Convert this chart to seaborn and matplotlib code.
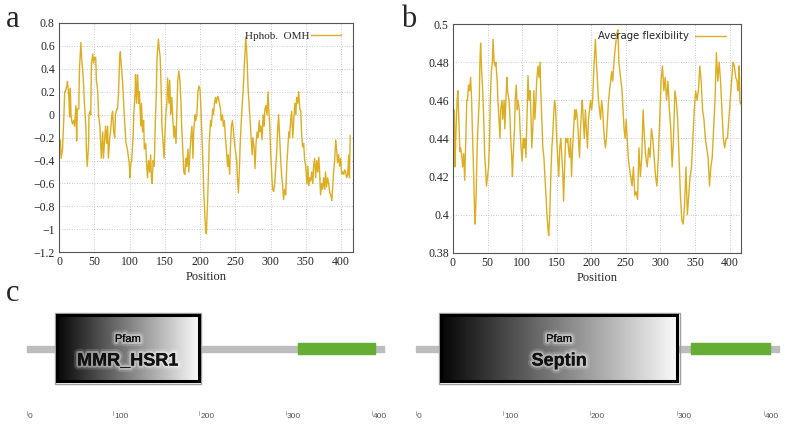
import numpy as np
import pandas as pd
import seaborn as sns
import matplotlib.pyplot as plt
from matplotlib.patches import Rectangle
import matplotlib.patheffects as pe

# Panel a: hydrophobicity (OMH) profile
hphob_pos = [2, 3, 5, 6, 7, 8, 9, 11, 12, 14, 15, 16, 17, 18, 19, 21, 22, 24, 25, 26, 28, 29, 31, 32, 34, 35,
             36, 38, 39, 40, 42, 42.5, 44, 45, 46, 48, 49, 50.5, 52, 53, 55, 56, 58, 59, 60, 62, 63, 65, 66,
             67.5, 69, 70, 72, 73, 75, 76, 77.5, 79, 80, 82, 83, 84.5, 86, 87, 88, 90, 91, 92.5, 94, 95, 97,
             98, 100, 100.5, 102, 103, 105, 106, 108, 108.5, 110, 111.5, 113, 114, 116, 117, 118.5, 120, 121,
             123, 124, 125.5, 127, 128.5, 130, 131, 132, 133.5, 135, 136.5, 138, 139, 141, 142, 143.5, 145,
             146, 148, 149, 150, 151.5, 153, 154, 156, 157, 158.5, 160, 161.5, 163, 164, 166, 167, 168.5, 170,
             171.5, 173, 174, 175.5, 177, 178.5, 180, 181, 183, 184, 185.5, 187, 188.5, 190, 191, 193, 194,
             195.5, 197, 198.5, 200, 201, 202.5, 204, 205.5, 207, 208, 209, 210.5, 212, 213, 215, 216, 218,
             219, 220.5, 222, 223, 225, 226, 227.5, 229, 230, 232, 233, 234.5, 236, 237.5, 239, 240, 242, 243,
             244.5, 246, 247.5, 249, 250, 252, 253, 254.5, 256, 257, 259, 260, 261.5, 263, 264.5, 265, 267,
             268, 269.5, 271, 272.5, 274, 275, 277, 278, 279.5, 281, 282.5, 284, 285, 286.5, 288, 289.5, 291,
             292, 293.5, 295, 296.5, 297.5, 299, 300, 302, 303, 304.5, 306, 307.5, 309, 310, 311.5, 313, 314.5,
             316, 317, 318.5, 320, 321.5, 323, 324.5, 326, 327, 328.5, 330, 331.5, 333, 334.5, 336, 337, 338.5,
             340, 341.5, 343, 344, 345.5, 347, 348.5, 350, 351.5, 353, 354, 355.5, 357, 358.5, 360, 361, 362.5,
             364, 365.5, 367, 368.5, 370, 371, 372.5, 374, 375.5, 377, 378, 379.5, 381, 382.5, 384, 385.5, 387,
             388, 389.5, 391, 392.5, 394, 395, 396.5, 398, 399.5, 401, 402.5, 404, 405, 406.5, 408, 409.5, 411,
             412, 413]
hphob_val = [-0.22, -0.38, -0.3, -0.15, 0.0, 0.2, 0.2, 0.25, 0.29, 0.15, -0.02, 0.23, 0.0, -0.05, -0.08, -0.05,
             -0.1, 0.08, -0.23, 0.05, 0.05, 0.4, 0.63, 0.5, 0.35, 0.25, 0.1, -0.1, -0.35, -0.45, -0.25, 0.0,
             0.03, 0.0, 0.45, 0.53, 0.45, 0.5, 0.5, 0.3, 0.2, 0.0, -0.1, -0.25, -0.38, -0.15, -0.38, -0.2, -0.1,
             -0.25, -0.1, -0.38, -0.2, -0.15, 0.0, 0.03, -0.15, -0.2, 0.0, 0.05, 0.05, 0.2, 0.5, 0.55, 0.45, 0.3,
             0.2, 0.0, -0.15, -0.25, -0.3, -0.35, -0.45, -0.55, -0.42, -0.4, -0.2, 0.0, 0.2, 0.35, 0.1, 0.35,
             0.1, 0.2, -0.1, 0.1, -0.15, -0.05, -0.3, -0.25, -0.4, -0.55, -0.4, -0.5, -0.35, -0.55, -0.6, -0.4,
             -0.45, -0.1, 0.2, 0.5, 0.66, 0.58, 0.5, 0.2, -0.1, -0.28, -0.38, -0.2, 0.0, 0.1, 0.32, 0.1, 0.3,
             0.0, 0.15, -0.05, -0.2, -0.1, -0.25, 0.0, 0.3, 0.38, 0.3, 0.1, -0.1, -0.3, -0.5, -0.52, -0.38,
             -0.45, -0.3, -0.5, -0.35, -0.2, -0.1, -0.38, -0.15, 0.0, -0.05, 0.0, 0.2, 0.25, 0.22, 0.1, -0.15,
             -0.4, -0.7, -0.9, -1.02, -1.04, -0.8, -0.5, -0.25, -0.05, -0.1, 0.05, 0.0, 0.1, 0.15, 0.1, 0.16,
             0.15, 0.1, 0.05, -0.05, 0.0, -0.1, -0.05, -0.2, -0.3, -0.45, -0.35, -0.52, -0.3, -0.1, -0.05,
             -0.15, -0.25, -0.3, -0.4, -0.55, -0.68, -0.45, -0.25, 0.0, 0.1, 0.25, 0.45, 0.62, 0.68, 0.45, 0.25,
             0.1, -0.05, -0.2, -0.35, -0.2, -0.3, -0.47, -0.25, -0.15, -0.2, -0.05, -0.15, -0.1, -0.22, 0.0,
             -0.1, 0.05, 0.08, 0.0, 0.2, 0.05, -0.1, -0.3, -0.55, -0.65, -0.67, -0.6, -0.45, -0.3, -0.15, 0.0,
             -0.2, -0.4, -0.55, -0.6, -0.74, -0.65, -0.7, -0.45, -0.3, -0.15, -0.2, -0.05, 0.03, -0.2, -0.05,
             0.1, 0.0, 0.15, 0.1, 0.2, 0.05, 0.03, -0.15, -0.28, -0.25, -0.4, -0.45, -0.6, -0.45, -0.62, -0.55,
             -0.58, -0.5, -0.6, -0.45, -0.38, -0.55, -0.4, -0.5, -0.37, -0.55, -0.7, -0.6, -0.65, -0.55, -0.65,
             -0.5, -0.63, -0.55, -0.6, -0.68, -0.7, -0.75, -0.65, -0.5, -0.4, -0.22, -0.32, -0.42, -0.35, -0.45,
             -0.38, -0.52, -0.5, -0.52, -0.48, -0.5, -0.55, -0.52, -0.35, -0.55, -0.18]

# Panel b: average flexibility profile
flex_pos = [2, 3, 4, 6, 7, 8.5, 10, 11, 13, 14,
            15.5, 17, 18.5, 20, 21, 22.5, 24, 25.5, 27, 28,
            30, 31, 32, 33.5, 35, 36, 38, 39, 40, 41.5,
            43, 44.5, 46, 47, 48.5, 50, 51.5, 53, 54, 55.5,
            57, 58, 59.5, 61, 62, 64, 65, 66.5, 68, 69,
            71, 72, 74, 75, 76.5, 78, 79, 81, 82, 83.5,
            85, 86, 87, 89, 90, 91.5, 93, 94, 96, 97,
            98.5, 100, 101.5, 103, 104, 105.5, 107, 108.5, 110, 111.5,
            113, 114, 115.5, 117, 118.5, 120, 121, 123, 124.5, 126,
            127, 128.5, 130, 131.5, 133, 134.5, 136, 137.5, 138.5, 140,
            141.5, 143, 144, 146, 147, 148.5, 150, 151.5, 153, 154.5,
            156, 157.5, 159, 160, 161.5, 163, 164.5, 166, 167, 168.5,
            170, 171.5, 173, 174.5, 176, 177, 178.5, 180, 181.5, 183,
            184.5, 186, 187, 188.5, 190, 191.5, 193, 194.5, 196, 197.5,
            199, 200.5, 202, 203.5, 205, 206, 207.5, 209, 210.5, 212,
            213.5, 215, 216.5, 218, 219, 220.5, 222, 223.5, 225, 226.5,
            228, 229.5, 231, 232.5, 234, 235.5, 237, 238.5, 240, 241.5,
            243, 244.5, 246, 247.5, 249, 250.5, 252, 253.5, 255, 257,
            259, 261, 263, 265, 267, 269, 271, 273, 275, 277,
            279, 281, 283, 285, 287, 289, 291, 293, 295, 297,
            299, 301, 303, 305, 307, 309, 311, 313, 315, 317,
            319, 321, 323, 325, 327, 329, 331, 333, 335, 337,
            339, 341, 343, 345, 347, 349, 351, 353, 355, 357,
            359, 361, 363, 365, 367, 369, 371, 373, 375, 377,
            379, 381, 383, 385, 387, 389, 391, 393, 395, 397,
            399, 401, 403, 405, 407, 409, 411, 412, 413, 414,
            415, 416]
flex_val = [0.455, 0.425, 0.44, 0.46, 0.465, 0.45, 0.433, 0.435, 0.43, 0.425,
            0.432, 0.418, 0.44, 0.46, 0.46, 0.468, 0.465, 0.472, 0.46, 0.445,
            0.42, 0.405, 0.395, 0.41, 0.435, 0.445, 0.46, 0.48, 0.49, 0.475,
            0.465, 0.45, 0.43, 0.425, 0.415, 0.42, 0.425, 0.44, 0.46, 0.475,
            0.48, 0.492, 0.48, 0.478, 0.48, 0.47, 0.46, 0.45, 0.44, 0.455,
            0.46, 0.45, 0.46, 0.445, 0.46, 0.472, 0.465, 0.46, 0.455, 0.44,
            0.43, 0.42, 0.43, 0.445, 0.46, 0.468, 0.455, 0.46, 0.455, 0.445,
            0.435, 0.428, 0.44, 0.435, 0.44, 0.43, 0.45, 0.473, 0.46, 0.465,
            0.45, 0.435, 0.445, 0.465, 0.45, 0.46, 0.47, 0.478, 0.472, 0.48,
            0.465, 0.45, 0.435, 0.43, 0.42, 0.41, 0.40, 0.392, 0.389, 0.4,
            0.42, 0.435, 0.44, 0.455, 0.46, 0.455, 0.44, 0.43, 0.42, 0.435,
            0.44, 0.43, 0.42, 0.407, 0.425, 0.44, 0.438, 0.44, 0.435, 0.43,
            0.44, 0.42, 0.435, 0.445, 0.455, 0.45, 0.455, 0.45, 0.44, 0.43,
            0.445, 0.455, 0.46, 0.45, 0.44, 0.455, 0.445, 0.435, 0.45, 0.455,
            0.46, 0.455, 0.46, 0.475, 0.485, 0.492, 0.48, 0.47, 0.46, 0.455,
            0.45, 0.46, 0.455, 0.445, 0.44, 0.435, 0.44, 0.45, 0.46, 0.465,
            0.47, 0.475, 0.47, 0.478, 0.485, 0.49, 0.495, 0.497, 0.48, 0.475,
            0.47, 0.465, 0.455, 0.445, 0.44, 0.45, 0.44, 0.43, 0.425, 0.42,
            0.415, 0.425, 0.41, 0.412, 0.408, 0.435, 0.42, 0.43, 0.455, 0.44,
            0.43, 0.425, 0.435, 0.43, 0.445, 0.44, 0.43, 0.42, 0.415, 0.43,
            0.45, 0.47, 0.478, 0.465, 0.472, 0.46, 0.47, 0.455, 0.445, 0.425,
            0.44, 0.465, 0.46, 0.45, 0.43, 0.41, 0.397, 0.395, 0.405, 0.425,
            0.40, 0.41, 0.42, 0.425, 0.44, 0.455, 0.465, 0.46, 0.465, 0.478,
            0.47, 0.455, 0.45, 0.44, 0.435, 0.43, 0.415, 0.425, 0.43, 0.445,
            0.46, 0.485, 0.47, 0.48, 0.47, 0.455, 0.44, 0.435, 0.44, 0.44,
            0.45, 0.46, 0.47, 0.48, 0.478, 0.472, 0.47, 0.465, 0.47, 0.478,
            0.46, 0.458]

# Panel c: domain architecture
protein_len = [414, 417]
domain_names = ['MMR_HSR1', 'Septin']
domain_start = [32, 26]
domain_end = [202, 303]
coil_start = [314, 316]
coil_end = [403, 407]
scale_ticks = [0, 100, 200, 300, 400]

line_color = '#DDAE22'

sns.set_style('white')
plt.rcParams['font.family'] = ['Liberation Serif', 'DejaVu Serif']

fig = plt.figure(figsize=(7.86, 4.25), dpi=100)

ax_a = fig.add_axes([0.0751, 0.4064, 0.374, 0.5395])
ax_b = fig.add_axes([0.5763, 0.4054, 0.3668, 0.538])

df_a = pd.DataFrame({'Position': hphob_pos, 'value': hphob_val})
df_b = pd.DataFrame({'Position': flex_pos, 'value': flex_val})

sns.lineplot(data=df_a, x='Position', y='value', ax=ax_a, color=line_color, lw=1.0,
             estimator=None, label='Hphob.  OMH')
sns.lineplot(data=df_b, x='Position', y='value', ax=ax_b, color=line_color, lw=1.0,
             estimator=None, label='Average flexibility')

ax_a.set_xlim(0, 417)
ax_a.set_ylim(-1.2, 0.8)
ax_a.set_yticks(np.arange(-1.2, 0.81, 0.2))
ax_a.set_yticklabels(['\u22121.2', '\u22121', '\u22120.8', '\u22120.6', '\u22120.4', '\u22120.2',
                      '0', '0.2', '0.4', '0.6', '0.8'])
ax_b.set_xlim(0, 417)
ax_b.set_ylim(0.38, 0.5)
ax_b.set_yticks([0.38, 0.4, 0.42, 0.44, 0.46, 0.48, 0.5])
ax_b.set_yticklabels(['0.38', '0.4', '0.42', '0.44', '0.46', '0.48', '0.5'])

for ax in (ax_a, ax_b):
    ax.set_xticks(range(0, 401, 50))
    ax.grid(True, linestyle=(0, (1, 2)), color='#b8b8b8', lw=0.6)
    ax.tick_params(labelsize=8.5, direction='in', length=3, color='#444', pad=3)
    ax.set_xlabel('Position', fontsize=9, labelpad=2)
    ax.set_ylabel('')
    for s in ax.spines.values():
        s.set_color('#555555')
        s.set_linewidth(0.8)

ax_a.legend(loc='upper right', frameon=False, markerfirst=False, handlelength=2.7,
            fontsize=8, borderaxespad=0.3, handletextpad=0.15, bbox_to_anchor=(0.985, 1.0))
ax_b.legend(loc='upper right', frameon=False, markerfirst=False, handlelength=3.0,
            borderaxespad=0.3, handletextpad=0.6, bbox_to_anchor=(0.97, 1.0),
            prop={'family': 'DejaVu Sans', 'size': 7.3})

# panel letters
fig.text(0.008, 0.955, 'a', fontsize=22, va='center')
fig.text(0.510, 0.955, 'b', fontsize=22, va='center')
fig.text(0.008, 0.31, 'c', fontsize=22, va='center')

# Panel c: two domain diagrams, y in pixel-like units
axes_c = [fig.add_axes([0.0, 0.0, 0.5, 135 / 425]), fig.add_axes([0.5, 0.0, 0.5, 135 / 425])]
xlims = [(-31.3, 424.4), (-26.4, 425.3)]
gradient = np.linspace(0.02, 0.98, 256).reshape(1, -1)
glow = [pe.withStroke(linewidth=6, foreground='white', alpha=0.15),
        pe.withStroke(linewidth=3, foreground='white', alpha=0.35),
        pe.Normal()]

for i, ax in enumerate(axes_c):
    ax.set_xlim(*xlims[i])
    ax.set_ylim(425, 290)
    ax.axis('off')
    # backbone
    ax.broken_barh([(0, protein_len[i])], (346, 6), color='#bdbdbd', zorder=1)
    # coiled region
    ax.broken_barh([(coil_start[i], coil_end[i] - coil_start[i])], (343.5, 11), color='#66ad33', zorder=2)
    # domain box with gradient
    s, e = domain_start[i], domain_end[i]
    ax.imshow(gradient, cmap='gray', vmin=0, vmax=1, aspect='auto',
              extent=[s + 2, e - 2, 382, 315], zorder=3, interpolation='bilinear')
    ax.add_patch(Rectangle((s, 313), e - s, 71, fill=False, ec='#a0a0a0', lw=1.0, zorder=4))
    ax.add_patch(Rectangle((s + 2.5, 315.5), e - s - 5, 66, fill=False, ec='black', lw=2.2, zorder=4))
    mid = (s + e) / 2
    ax.text(mid, 339, 'Pfam', fontsize=8, family='Liberation Sans', ha='center', va='center',
            color='#111111', zorder=5, path_effects=glow)
    ax.text(mid, 361, domain_names[i], fontsize=13, fontweight='bold', family='Liberation Sans',
            ha='center', va='center', color='#111111', zorder=5, path_effects=glow)
    # scale
    for t in scale_ticks:
        ax.plot([t, t], [411, 415], color='#888888', lw=0.5)
        ax.text(t + 1, 417, str(t), fontsize=6, family='Liberation Sans', color='#555555',
                ha='left', va='center')

fig.savefig('out.png', dpi=100)
